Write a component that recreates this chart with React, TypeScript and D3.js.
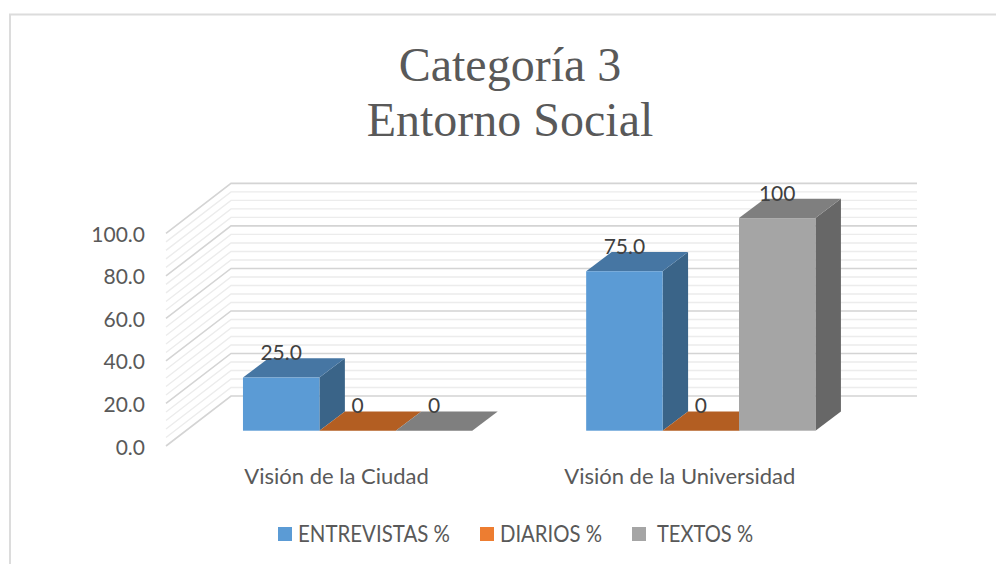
import React from "react";
import * as d3 from "d3";

const categories = ["Visión de la Ciudad", "Visión de la Universidad"];
const seriesNames = ["ENTREVISTAS %", "DIARIOS %", "TEXTOS %"];
const entrevistas = [25, 75];
const diarios = [0, 0];
const textos = [0, 100];
const valueLabels = [["25.0", "75.0"], ["0", "0"], ["0", "100"]];
const yTicks = [0, 20, 40, 60, 80, 100];
const minorTicks = d3.range(0, 101, 4);
const titleLines = ["Categoría 3", "Entorno Social"];

const front = ["#5B9BD5", "#ED7D31", "#A5A5A5"];
const top = ["#4676A3", "#B35E22", "#7F7F7F"];
const side = ["#3A6488", "#8C4A1B", "#676767"];
const legendPos = [
  { sx: 278, tx: 298, tw: 152 },
  { sx: 480, tx: 500, tw: 102 },
  { sx: 632, tx: 657, tw: 96 },
];

const W = 996, H = 564;
const floorFront = 430.7;
const depthX = 25.5, depthY = 19.3;
const wallX0 = 166, wallX1 = 231, wallRight = 917;
const wallBase0 = 446, wallBase1 = 396;

export default function App() {
  const h = d3.scaleLinear().domain([0, 100]).range([0, 212.6]);
  const xCat = d3.scaleBand<string>().domain(categories).range([186, 872.4]).paddingInner(0.332).paddingOuter(0.166);
  const xSer = d3.scaleBand<string>().domain(seriesNames).range([0, xCat.bandwidth()]);
  const data = [entrevistas, diarios, textos];
  const line = d3.line();

  const bars: React.ReactNode[] = [];
  const labels: React.ReactNode[] = [];
  categories.forEach((c, ci) => {
    seriesNames.forEach((s, si) => {
      const x0 = xCat(c)! + xSer(s)!;
      const x1 = x0 + xSer.bandwidth();
      const v = data[si][ci];
      const yt = floorFront - h(v);
      const poly = (pts: [number, number][], fill: string, key: string) => (
        <path key={key} d={line(pts)! + "Z"} fill={fill} />
      );
      if (v > 0) {
        bars.push(poly([[x1, floorFront], [x1 + depthX, floorFront - depthY], [x1 + depthX, yt - depthY], [x1, yt]], side[si], `s${ci}${si}`));
      }
      bars.push(poly([[x0, yt], [x1, yt], [x1 + depthX, yt - depthY], [x0 + depthX, yt - depthY]], top[si], `t${ci}${si}`));
      if (v > 0) {
        bars.push(<rect key={`f${ci}${si}`} x={x0} y={yt} width={x1 - x0} height={h(v)} fill={front[si]} />);
      }
      labels.push(
        <text key={`l${ci}${si}`} x={(x0 + x1) / 2} y={yt - 17.5} textAnchor="middle" fontSize={21} fill="#404040" fontFamily="Lato">
          {valueLabels[si][ci]}
        </text>
      );
    });
  });

  return (
    <svg width={W} height={H} style={{ position: "absolute", left: 0, top: 0, background: "#fff" }}>
      <path d={`M10 564V14.5H996`} fill="none" stroke="#dcdcdc" strokeWidth={2} />
      {titleLines.map((t, i) => (
        <text key={t} x={510} y={81 + i * 55} textAnchor="middle" fontSize={48} fill="#595959" fontFamily="Liberation Serif">{t}</text>
      ))}
      {minorTicks.filter((t) => !yTicks.includes(t)).concat(yTicks).map((t) => {
        const major = yTicks.includes(t);
        return (
          <path key={t}
            d={line([[wallX0, wallBase0 - h(t)], [wallX1, wallBase1 - h(t)], [wallRight, wallBase1 - h(t)]])!}
            fill="none" stroke={major ? "#d4d4d4" : "#ececec"} strokeWidth={major ? 1.6 : 1.4} />
        );
      })}
      {yTicks.map((t) => (
        <text key={t} x={145} y={wallBase0 - h(t) + 8.5} textAnchor="end" fontSize={21} fill="#595959" fontFamily="Lato">{t.toFixed(1)}</text>
      ))}
      {bars}
      {labels}
      {categories.map((c) => (
        <text key={c} x={xCat(c)! + xCat.bandwidth() / 2 - 21} y={484} textAnchor="middle" fontSize={22} fill="#595959" fontFamily="Lato">{c}</text>
      ))}
      {seriesNames.map((s, i) => (
        <g key={s}>
          <rect x={legendPos[i].sx} y={527} width={14} height={14} fill={front[i]} />
          <text x={legendPos[i].tx} y={542} fontSize={23} fill="#595959" fontFamily="Lato" textLength={legendPos[i].tw} lengthAdjust="spacingAndGlyphs">{s}</text>
        </g>
      ))}
    </svg>
  );
}
